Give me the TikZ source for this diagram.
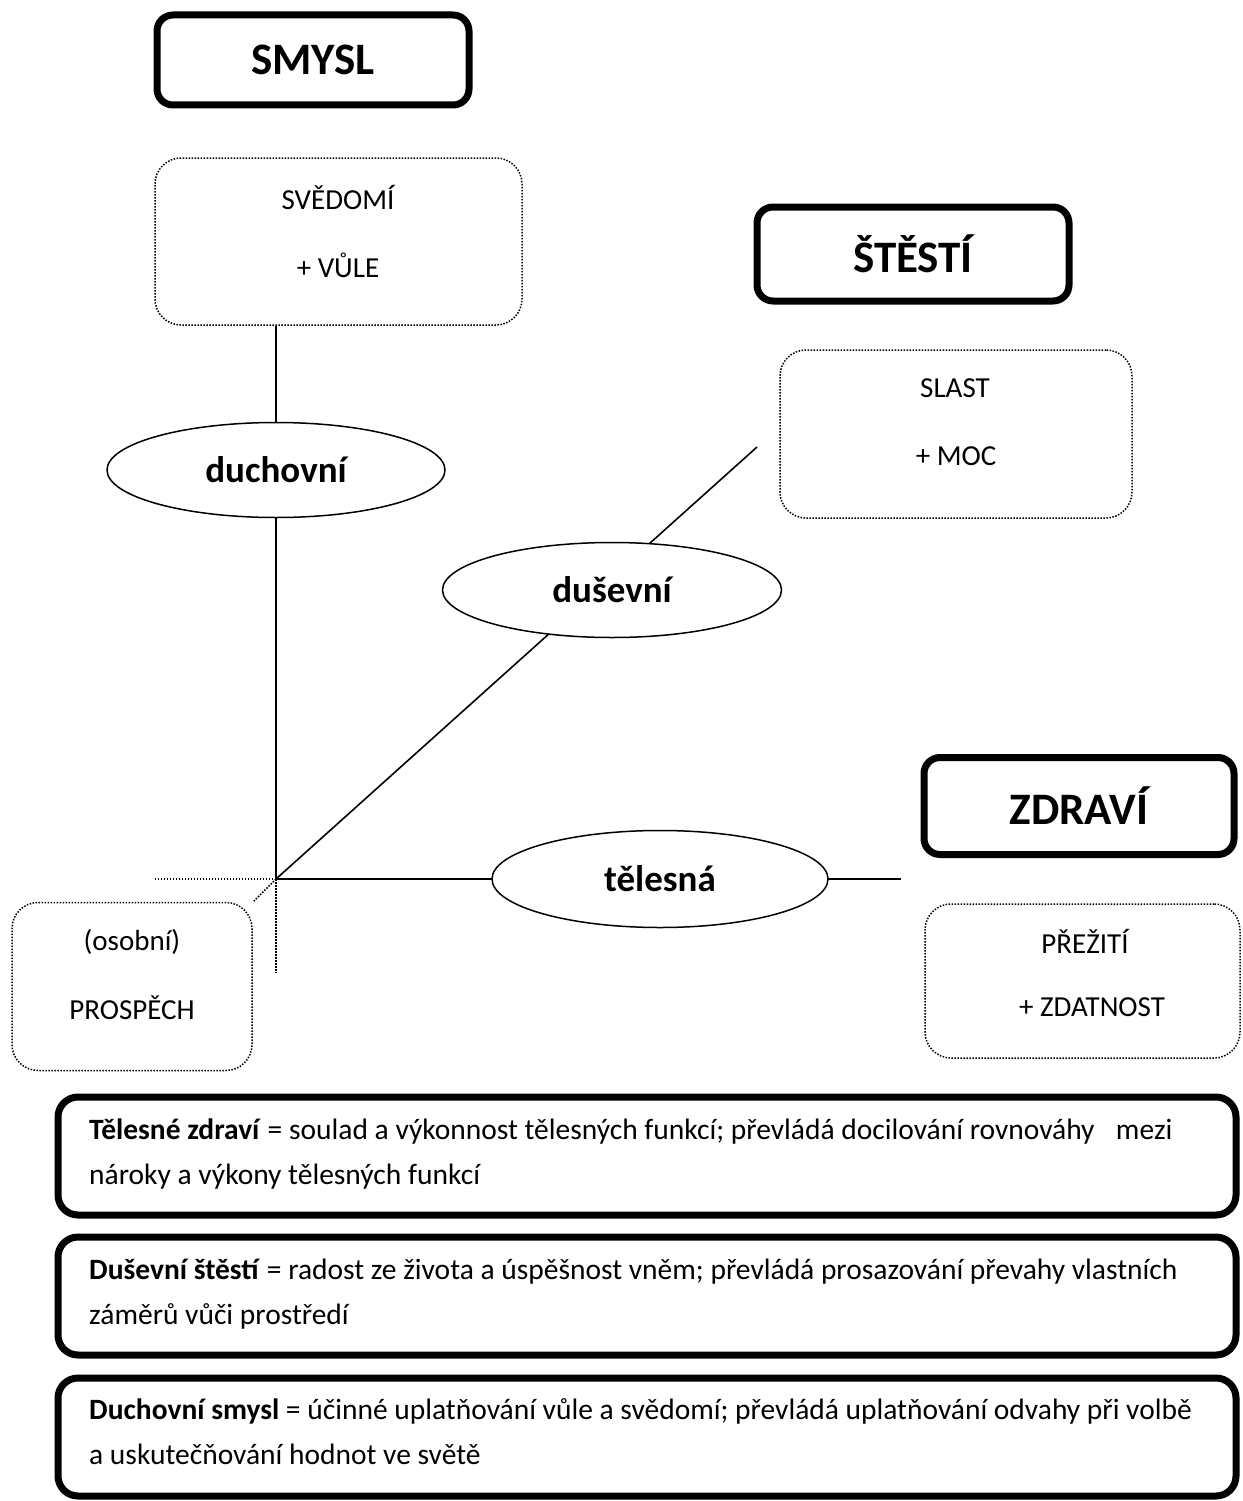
\documentclass[tikz,border=0pt]{standalone}
\usepackage{fontspec}
\setmainfont{Carlito}
\usetikzlibrary{shapes.geometric}
\tikzset{
  hdrbox/.style={draw, line width=7pt, rounded corners=16pt, inner sep=0pt,
    font=\fontsize{45}{52}\selectfont\bfseries},
  dotbox/.style={draw, line width=1.5pt, dash pattern=on 1.5pt off 1.5pt,
    rounded corners=26pt, inner sep=0pt},
  oval/.style={draw, ellipse, line width=1.5pt, fill=white, inner sep=0pt,
    font=\fontsize{37}{44}\selectfont\bfseries},
  link/.style={line width=1.6pt},
  dotlink/.style={line width=1.5pt, dash pattern=on 1.5pt off 1.5pt},
  boxtxt/.style={font=\fontsize{29}{34}\selectfont, inner sep=0pt},
  defbox/.style={draw, line width=7pt, rounded corners=20pt, inner sep=0pt,
    minimum width=1178pt, minimum height=118pt},
  deftxt/.style={font=\fontsize{29.5}{34}\selectfont, inner sep=0pt, anchor=base west}
}
\begin{document}
\begin{tikzpicture}[x=1pt,y=-1pt]
\useasboundingbox (0,0) rectangle (1242,1501);

% header boxes
\node[hdrbox, minimum width=312pt, minimum height=90pt] (smysl) at (313,60) {SMYSL};
\node[hdrbox, minimum width=312pt, minimum height=94pt] (stesti) at (913,254) {ŠTĚSTÍ};
\node[hdrbox, minimum width=310pt, minimum height=97pt] (zdravi) at (1079,806) {ZDRAVÍ};

% dotted boxes
\node[dotbox, minimum width=367pt, minimum height=167pt] (svedomi) at (338.5,241.5) {};
\node[boxtxt] (svedomiA) at (338,197) {SVĚDOMÍ};
\node[boxtxt] (svedomiB) at (338,265) {+ VŮLE};

\node[dotbox, minimum width=352pt, minimum height=168pt] (slast) at (956,434) {};
\node[boxtxt] (slastA) at (955,388) {SLAST};
\node[boxtxt] (slastB) at (956,456) {+ MOC};

\node[dotbox, minimum width=240pt, minimum height=168pt] (osobni) at (132,986.5) {};
\node[boxtxt] (osobniA) at (132,942) {(osobní)};
\node[boxtxt] (osobniB) at (132,1008) {PROSPĚCH};

\node[dotbox, minimum width=315pt, minimum height=154pt] (prezit) at (1082.5,981) {};
\node[boxtxt] (prezitA) at (1085,941) {PŘEŽITÍ};
\node[boxtxt] (prezitB) at (1092,1007) {+ ZDATNOST};

% axes
\coordinate (O) at (276,879);
\coordinate (dend) at (757,447);
\coordinate (hend) at (901,879);
\coordinate (dl) at (155,879);
\coordinate (dd) at (276,973);
\coordinate (dg) at (254,901);

\draw[link] (svedomi.south -| O) -- (O);
\draw[link] (O) -- (dend);
\draw[link] (O) -- (hend);
\draw[dotlink] (O) -- (dl);
\draw[dotlink] (O) -- (dd);
\draw[dotlink] (O) -- (dg);

% ellipses
\node[oval, minimum width=338pt, minimum height=95pt] (duch) at (276,470) {duchovní};
\node[oval, minimum width=339pt, minimum height=95pt] (dus) at (612,590) {duševní};
\node[oval, minimum width=336pt, minimum height=97pt] (tel) at (660,879) {tělesná};

% definition boxes
\node[defbox] (def1) at (647,1156) {};
\node[defbox] (def2) at (647,1296) {};
\node[defbox] (def3) at (647,1437) {};

\node[deftxt] (t1a) at (89,1139) {\textbf{Tělesné zdraví} = soulad a výkonnost tělesných funkcí; převládá docilování rovnováhy\hspace{0.5em} mezi};
\node[deftxt] (t1b) at (89,1184) {nároky a výkony tělesných funkcí};
\node[deftxt] (t2a) at (89,1279) {\textbf{Duševní štěstí} = radost ze života a úspěšnost vněm; převládá prosazování převahy vlastních};
\node[deftxt] (t2b) at (89,1324) {záměrů vůči prostředí};
\node[deftxt] (t3a) at (89,1419) {\textbf{Duchovní smysl} = účinné uplatňování vůle a svědomí; převládá uplatňování odvahy při volbě};
\node[deftxt] (t3b) at (89,1464) {a uskutečňování hodnot ve světě};
\end{tikzpicture}
\end{document}
